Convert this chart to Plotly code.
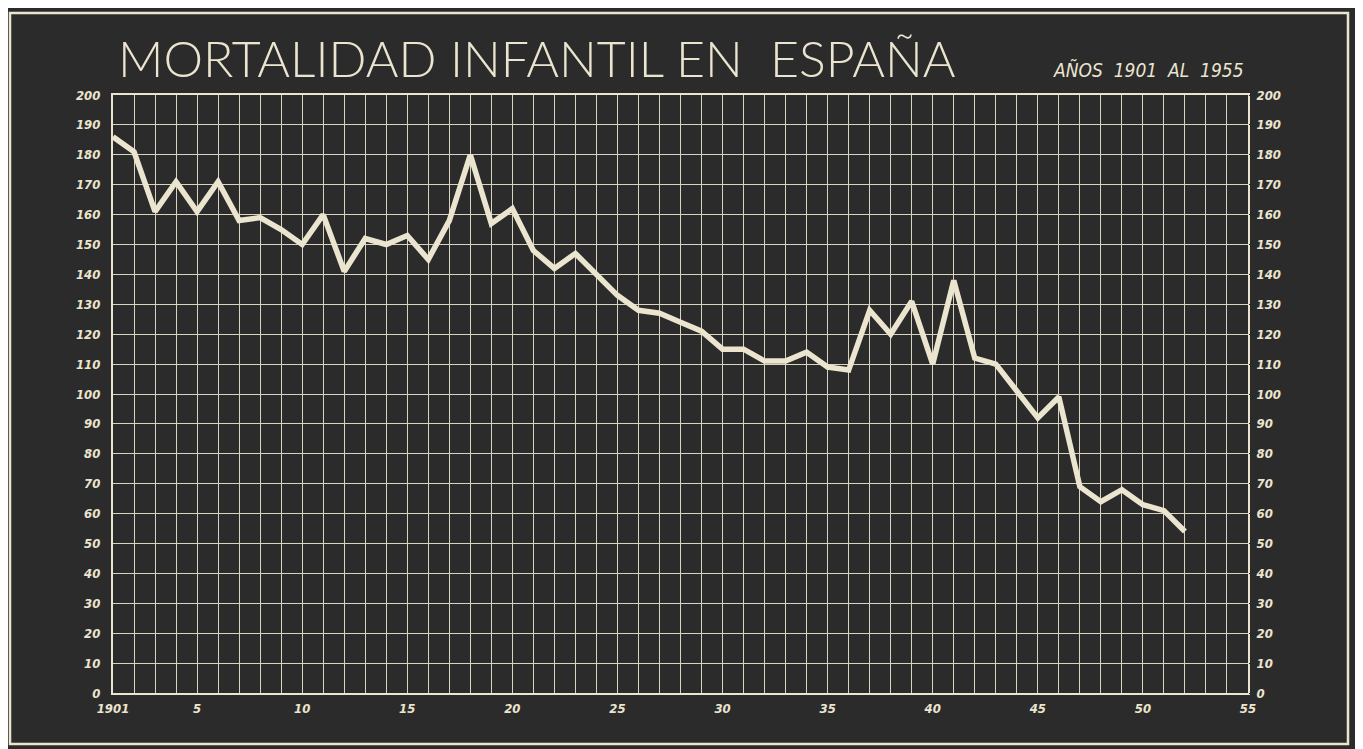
import plotly.graph_objects as go

years = list(range(1901, 1953))
mortality = [186, 181, 161, 171, 161, 171, 158, 159, 155, 150,
             160, 141, 152, 150, 153, 145, 158, 180, 157, 162,
             148, 142, 147, 140, 133, 128, 127, 124, 121, 115,
             115, 111, 111, 114, 109, 108, 128, 120, 131, 110,
             138, 112, 110, 101, 92, 99, 69, 64, 68, 63,
             61, 54]

x_tick_vals = list(range(1901, 1956))
x_label_map = {1901: "1901", 1905: "5", 1910: "10", 1915: "15", 1920: "20",
               1925: "25", 1930: "30", 1935: "35", 1940: "40", 1945: "45",
               1950: "50", 1955: "55"}
x_tick_text = [x_label_map.get(v, "") for v in x_tick_vals]
y_tick_vals = list(range(0, 201, 10))
y_tick_text = [str(v) for v in y_tick_vals]

title_text = "MORTALIDAD INFANTIL EN  ESPAÑA"
subtitle_text = "AÑOS  1901  AL  1955"

DARK = "#2b2b2b"
CREAM = "#ebe5cf"
GRID = "#d9d4c0"
PAPER = "#e8e0c6"

# figure geometry (page is offset by the 8px body margin)
W, H = 1355, 741
L, T, PW, PH = 105, 87, 1135, 598


def px(x):
    return (x - L) / PW


def py(y):
    return (T + PH - y) / PH


tick_font = dict(family="DejaVu Sans Condensed", size=13, color=CREAM,
                 style="italic", weight="bold")

fig = go.Figure()
fig.add_trace(go.Scatter(x=years, y=mortality, mode="lines",
                         line=dict(color=CREAM, width=5.5), hoverinfo="skip",
                         showlegend=False))
fig.add_trace(go.Scatter(x=[years[0]], y=[mortality[0]], yaxis="y2",
                         mode="markers", marker=dict(opacity=0),
                         hoverinfo="skip", showlegend=False))

fig.update_layout(
    width=W, height=H,
    margin=dict(l=L, r=W - L - PW, t=T, b=H - T - PH),
    paper_bgcolor=PAPER,
    plot_bgcolor=DARK,
    xaxis=dict(range=[1901, 1955], tickmode="array", tickvals=x_tick_vals,
               ticktext=x_tick_text, showgrid=True, gridcolor=GRID,
               gridwidth=1.3, zeroline=False, showline=True, linecolor=CREAM,
               linewidth=2, mirror=True, ticks="outside", ticklen=2,
               tickcolor=DARK, tickfont=tick_font),
    yaxis=dict(range=[0, 200], tickmode="array", tickvals=y_tick_vals,
               ticktext=y_tick_text, showgrid=True, gridcolor=GRID,
               gridwidth=1.3, zeroline=False, showline=True, linecolor=CREAM,
               linewidth=2, mirror=True, ticks="outside", ticklen=8,
               tickcolor=DARK, tickfont=tick_font),
    yaxis2=dict(range=[0, 200], overlaying="y", side="right",
                tickmode="array", tickvals=y_tick_vals, ticktext=y_tick_text,
                showgrid=False, zeroline=False, showline=False,
                ticks="outside", ticklen=5, tickcolor=DARK,
                tickfont=tick_font),
    shapes=[
        dict(type="rect", xref="paper", yref="paper", layer="below",
             x0=px(-20), x1=px(1347), y0=py(H + 20), y1=py(-20),
             fillcolor=DARK, line=dict(width=0)),
        dict(type="rect", xref="paper", yref="paper", layer="below",
             x0=px(2), x1=px(1340), y0=py(736), y1=py(5),
             fillcolor="rgba(0,0,0,0)", line=dict(color=CREAM, width=2.5)),
    ],
    annotations=[
        dict(text=title_text, xref="paper", yref="paper",
             x=px(108), y=py(50), xanchor="left",
             yanchor="middle", showarrow=False,
             font=dict(family="Lato", size=50, color=CREAM, weight=300)),
        dict(text=subtitle_text, xref="paper", yref="paper",
             x=px(1238), y=py(62), xanchor="right",
             yanchor="middle", showarrow=False,
             font=dict(family="DejaVu Sans Condensed", size=19, color=CREAM,
                       style="italic")),
    ],
)

fig.write_html("out.html")
